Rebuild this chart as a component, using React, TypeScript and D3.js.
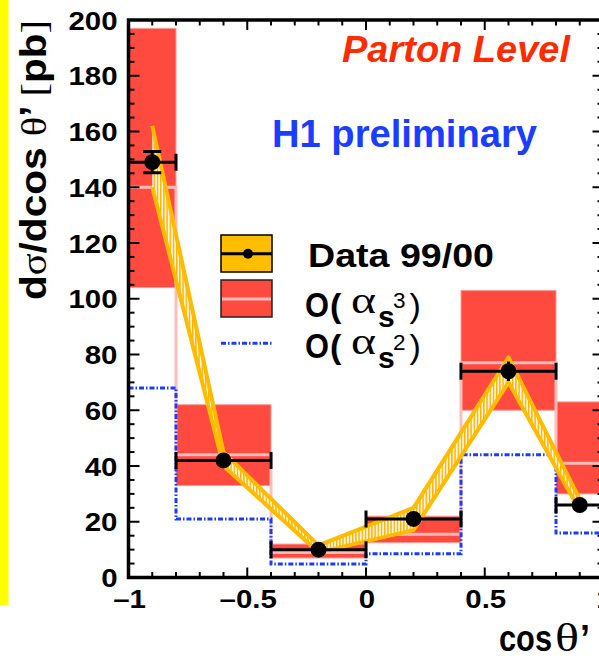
import React from "react";
import * as d3 from "d3";

// ---------- data ----------
const binEdges = [-1, -0.8, -0.4, 0, 0.4, 0.8, 1];
const dataX = [-0.9, -0.6, -0.2, 0.2, 0.6, 0.9];
const dataY = [149, 42, 10, 21, 74, 26];
const dataStatErr = [3.8, 1, 0.5, 1, 3.5, 1];
const dataBandLow = [140, 40, 9, 17, 70, 24];
const dataBandHigh = [162, 45, 11.5, 25, 79, 28];
const nlo3Central = [140, 44, 9, 15.5, 77, 41];
const nlo3Low = [104, 33, 7, 12.5, 60, 30];
const nlo3High = [197, 62, 12, 22, 103, 63];
const lo2Values = [68, 21, 4.8, 8.5, 44, 16];
const xTickLabels = [-1, -0.5, 0, 0.5, 1];
const yTickLabels = [0, 20, 40, 60, 80, 100, 120, 140, 160, 180, 200];

const W = 599;
const H = 658;
const SANS = "'Liberation Sans', Arial, Helvetica, sans-serif";
const SERIF = "'Liberation Serif', 'DejaVu Serif', serif";

const x = d3.scaleLinear().domain([-1, 1]).range([128.5, 603.5]);
const y = d3.scaleLinear().domain([0, 200]).range([577.5, 20]);

const RED = "#ff4a40";
const PINK = "#ffbcb8";
const BLUE = "#1a3cff";
const YEL = "#ffbb00";

function fmt(v: number) {
  if (v === 0) return "0";
  const s = String(Math.abs(v));
  return (v < 0 ? "\u2013" : "") + s;
}

export default function App() {
  const [x0, x1] = x.domain();
  const [y0, y1] = y.domain();

  const stepLine = (vals: number[]) => {
    const pts: [number, number][] = vals.map((v, i) => [binEdges[i], v]);
    pts.push([binEdges[binEdges.length - 1], vals[vals.length - 1]]);
    return d3
      .line<[number, number]>()
      .x((d) => x(d[0]))
      .y((d) => y(d[1]))
      .curve(d3.curveStepAfter)(pts) as string;
  };

  const bandArea = d3
    .area<number>()
    .x((_, i) => x(dataX[i]))
    .y0((_, i) => y(dataBandLow[i]))
    .y1((_, i) => y(dataBandHigh[i]))(dataX) as string;
  const bandUpper = d3
    .line<number>()
    .x((_, i) => x(dataX[i]))
    .y((_, i) => y(dataBandHigh[i]))(dataX) as string;
  const bandLower = d3
    .line<number>()
    .x((_, i) => x(dataX[i]))
    .y((_, i) => y(dataBandLow[i]))(dataX) as string;

  const minorX = d3.range(-10, 11).map((i) => i / 10);
  const minorY = d3.range(0, 41).map((i) => i * 5);

  const idx = dataX.map((_, i) => i);

  return (
    <svg
      width={W}
      height={H}
      style={{ position: "absolute", left: 0, top: 0, background: "#fff" }}
      fontFamily={SANS}
    >
      <defs>
        <pattern id="hatch" width={3.2} height={6} patternUnits="userSpaceOnUse">
          <rect width={3.2} height={6} fill="#fff6d8" />
          <rect x={0} width={1.4} height={6} fill="#ffb000" />
        </pattern>
        <clipPath id="plotclip">
          <rect x={x(x0)} y={y(y1)} width={x(x1) - x(x0)} height={y(y0) - y(y1)} />
        </clipPath>
      </defs>

      {/* yellow strip */}
      <rect x={0} y={0} width={8.5} height={605} fill="#ffff00" />

      <g clipPath="url(#plotclip)">
        {nlo3Low.map((lo, i) => (
          <rect
            key={"r" + i}
            x={x(binEdges[i])}
            y={y(nlo3High[i])}
            width={x(binEdges[i + 1]) - x(binEdges[i])}
            height={y(lo) - y(nlo3High[i])}
            fill={RED}
            stroke="#ff9e98"
            strokeWidth={1}
          />
        ))}
        <path d={stepLine(nlo3Central)} fill="none" stroke={PINK} strokeWidth={3} />
        <path
          d={stepLine(lo2Values)}
          fill="none"
          stroke={BLUE}
          strokeWidth={3}
          strokeDasharray="5,2,1.5,2"
        />
        <path d={bandArea} fill="url(#hatch)" stroke="none" />
        <path d={bandUpper} fill="none" stroke={YEL} strokeWidth={4} strokeLinejoin="round" />
        <path d={bandLower} fill="none" stroke={YEL} strokeWidth={4} strokeLinejoin="round" />
        {idx.map((i) => {
          const cx = x(dataX[i]);
          const cy = y(dataY[i]);
          const xl = x(binEdges[i]);
          const xr = x(binEdges[i + 1]);
          const yt = y(dataY[i] + dataStatErr[i]);
          const yb = y(dataY[i] - dataStatErr[i]);
          const caps = yb - cy > 10;
          return (
            <g key={"e" + i} stroke="#000" strokeWidth={3}>
              <line x1={xl} x2={xr} y1={cy} y2={cy} />
              <line x1={xl} x2={xl} y1={cy - 8.5} y2={cy + 8.5} />
              <line x1={xr} x2={xr} y1={cy - 8.5} y2={cy + 8.5} />
              <line x1={cx} x2={cx} y1={yt} y2={yb} />
              {caps && <line x1={cx - 9} x2={cx + 9} y1={yt} y2={yt} />}
              {caps && <line x1={cx - 9} x2={cx + 9} y1={yb} y2={yb} />}
            </g>
          );
        })}
        {idx.map((i) => (
          <circle key={"p" + i} cx={x(dataX[i])} cy={y(dataY[i])} r={8} fill="#000" />
        ))}
      </g>

      {/* frame */}
      <rect
        x={x(x0)}
        y={y(y1)}
        width={x(x1) - x(x0)}
        height={y(y0) - y(y1)}
        fill="none"
        stroke="#000"
        strokeWidth={3.5}
      />
      {minorX.map((v, i) => {
        const major = Math.abs(v * 2 - Math.round(v * 2)) < 1e-6;
        const len = major ? 10 : 5.5;
        return (
          <g key={"xt" + i} stroke="#000" strokeWidth={2}>
            <line x1={x(v)} x2={x(v)} y1={y(y0)} y2={y(y0) - len} />
            <line x1={x(v)} x2={x(v)} y1={y(y1)} y2={y(y1) + len} />
          </g>
        );
      })}
      {minorY.map((v, i) => {
        const major = v % 20 === 0;
        const len = major ? 11 : 6;
        return (
          <g key={"yt" + i} stroke="#000" strokeWidth={2}>
            <line x1={x(x0)} x2={x(x0) + len} y1={y(v)} y2={y(v)} />
            <line x1={x(x1)} x2={x(x1) - len} y1={y(v)} y2={y(v)} />
          </g>
        );
      })}

      {yTickLabels.map((v) => (
        <text
          key={"yl" + v}
          transform={`translate(117.5,${y(v) + 9.5}) scale(1.15,1)`}
          textAnchor="end"
          fontSize={25.6}
          fontWeight="bold"
        >
          {v}
        </text>
      ))}
      {xTickLabels.map((v) => (
        <text
          key={"xl" + v}
          transform={`translate(${x(v) + 1},608) scale(1.15,1)`}
          textAnchor="middle"
          fontSize={25.6}
          fontWeight="bold"
        >
          {fmt(v)}
        </text>
      ))}

      {/* axis titles */}
      <text
        transform="translate(46,300) rotate(-90)"
        fontSize={36}
        fontWeight="bold"
        textLength={280}
        lengthAdjust="spacingAndGlyphs"
      >
        <tspan>d</tspan>
        <tspan fontFamily={SERIF} fontWeight="normal">σ</tspan>
        <tspan>/dcos </tspan>
        <tspan fontFamily={SERIF} fontWeight="normal">θ</tspan>
        <tspan>’ </tspan>
        <tspan fontFamily={SERIF} fontWeight="normal">[</tspan>
        <tspan>pb</tspan>
        <tspan fontFamily={SERIF} fontWeight="normal">]</tspan>
      </text>
      <text x={499} y={650.7} fontSize={37} fontWeight="bold" textLength={53} lengthAdjust="spacingAndGlyphs">
        cos
      </text>
      <text x={555} y={650.7} fontSize={40} fontFamily={SERIF} textLength={24} lengthAdjust="spacingAndGlyphs">
        θ
      </text>
      <text x={580} y={650.7} fontSize={36} fontWeight="bold">
        ’
      </text>

      {/* headings */}
      <text
        x={342}
        y={61.7}
        fontSize={37}
        fontWeight="bold"
        fontStyle="italic"
        fill="#ff2b00"
        textLength={228}
        lengthAdjust="spacingAndGlyphs"
      >
        Parton Level
      </text>
      <text
        x={272}
        y={146.7}
        fontSize={39}
        fontWeight="bold"
        fill="#1a3dff"
        textLength={265}
        lengthAdjust="spacingAndGlyphs"
      >
        H1 preliminary
      </text>

      {/* legend */}
      <rect x={221} y={235} width={51} height={37} fill="#ffbf00" stroke="#000" strokeWidth={1.5} />
      <line x1={221} x2={272} y1={253.7} y2={253.7} stroke="#000" strokeWidth={3} />
      <circle cx={248} cy={253.7} r={5} fill="#000" />
      <rect x={221} y={280} width={51} height={37} fill={RED} stroke="#222" strokeWidth={1.5} />
      <line x1={222} x2={271} y1={299} y2={299} stroke={PINK} strokeWidth={3} />
      <line x1={221} x2={272} y1={343.3} y2={343.3} stroke={BLUE} strokeWidth={3} strokeDasharray="5,2,1.5,2" />

      <text x={308} y={267} fontSize={33} fontWeight="bold" textLength={186} lengthAdjust="spacingAndGlyphs">
        Data 99/00
      </text>
      {[
        { sup: "3", dy: 0 },
        { sup: "2", dy: 41.7 },
      ].map((r) => (
        <g key={r.sup}>
          <text x={305} y={316.7 + r.dy} fontSize={35} fontWeight="bold" textLength={24} lengthAdjust="spacingAndGlyphs">
            O
          </text>
          <text x={330} y={316.7 + r.dy} fontSize={34} fontWeight="bold">
            (
          </text>
          <text x={351} y={312.5 + r.dy} fontSize={38} fontFamily={SERIF} textLength={25} lengthAdjust="spacingAndGlyphs">
            α
          </text>
          <text x={378} y={326.7 + r.dy} fontSize={30} fontWeight="bold">
            s
          </text>
          <text x={393} y={308 + r.dy} fontSize={22.5}>
            {r.sup}
          </text>
          <text x={409.5} y={316.7 + r.dy} fontSize={34}>
            )
          </text>
        </g>
      ))}
    </svg>
  );
}
